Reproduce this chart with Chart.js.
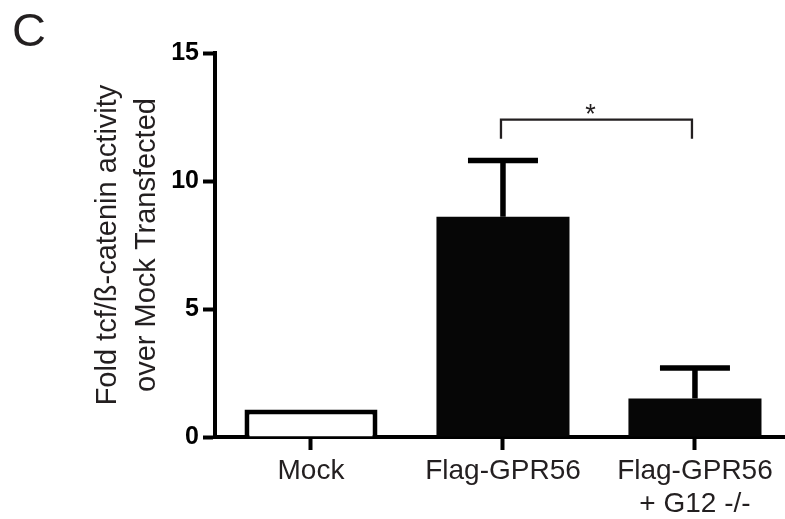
<!DOCTYPE html>
<html>
<head>
<meta charset="utf-8">
<script src="https://cdn.jsdelivr.net/npm/chart.js@4.4.0/dist/chart.umd.min.js"></script>
<style>
  html, body { margin: 0; padding: 0; background: #fff; }
  #wrap { position: relative; width: 785px; height: 519px; }
</style>
</head>
<body>
<div id="wrap"><canvas id="chart"></canvas></div>
<script>
// values
const CATEGORIES = ['Mock', 'Flag-GPR56', ['Flag-GPR56', '+ G12 -/-']]
const MEANS = [1.07, 8.6, 1.5]
const ERRORS = [0, 2.2, 1.2]
const Y_TICKS = [0, 5, 10, 15]
const Y_TITLE = ['Fold tcf/ß-catenin activity', 'over Mock Transfected']
const SIG_PAIR = [1, 2]
const SIG_LEVEL = 12.4
const SIG_DROP = 0.75
const SIG_LABEL = '*'
const PANEL = 'C'

const FONT = '"Liberation Sans", Arial, Helvetica, sans-serif'
const INK = '#000'
const TEXT = '#231f20'
const FILL = '#060606'

const errorBars = {
  id: 'errorBars',
  afterDatasetsDraw(chart) {
    const { ctx, scales: { y } } = chart
    const meta = chart.getDatasetMeta(0)
    ctx.save()
    ctx.strokeStyle = INK
    ctx.lineWidth = 5.5
    meta.data.forEach((bar, i) => {
      if (!ERRORS[i]) return
      const top = y.getPixelForValue(MEANS[i] + ERRORS[i])
      ctx.beginPath()
      ctx.moveTo(bar.x, bar.y)
      ctx.lineTo(bar.x, top)
      ctx.moveTo(bar.x - 35, top)
      ctx.lineTo(bar.x + 35, top)
      ctx.stroke()
    })
    ctx.restore()
  },
}

const sigBracket = {
  id: 'sigBracket',
  afterDatasetsDraw(chart) {
    const { ctx, scales: { x, y } } = chart
    const x1 = x.getPixelForValue(SIG_PAIR[0]) - 2
    const x2 = x.getPixelForValue(SIG_PAIR[1]) - 3
    const yTop = y.getPixelForValue(SIG_LEVEL)
    const yLow = y.getPixelForValue(SIG_LEVEL - SIG_DROP)
    ctx.save()
    ctx.strokeStyle = TEXT
    ctx.lineWidth = 2.3
    ctx.beginPath()
    ctx.moveTo(x1, yLow)
    ctx.lineTo(x1, yTop)
    ctx.lineTo(x2, yTop)
    ctx.lineTo(x2, yLow)
    ctx.stroke()
    ctx.fillStyle = TEXT
    ctx.font = `27px ${FONT}`
    ctx.textAlign = 'center'
    ctx.textBaseline = 'alphabetic'
    ctx.fillText(SIG_LABEL, (x1 + x2) / 2 - 6, yTop + 3)
    ctx.restore()
  },
}

const panelLetter = {
  id: 'panelLetter',
  afterDraw(chart) {
    const { ctx } = chart
    ctx.save()
    ctx.fillStyle = TEXT
    ctx.font = `47px ${FONT}`
    ctx.textBaseline = 'alphabetic'
    ctx.fillText(PANEL, 12, 46)
    ctx.restore()
  },
}

new Chart(document.getElementById('chart'), {
  type: 'bar',
  data: {
    datasets: [{
      data: MEANS.map((v, i) => ({ x: i, y: v })),
      backgroundColor: ['#fff', FILL, FILL],
      borderColor: INK,
      borderWidth: [5, 0, 0],
      borderSkipped: 'start',
      categoryPercentage: 1,
      barPercentage: 0.693,
    }],
  },
  options: {
    responsive: true,
    maintainAspectRatio: false,
    animation: false,
    layout: { padding: { top: 53, left: 0, right: 0, bottom: 0 } },
    plugins: { legend: { display: false }, tooltip: { enabled: false } },
    scales: {
      x: {
        type: 'linear',
        min: -0.5,
        max: 2.469,
        offset: false,
        z: 1,
        afterBuildTicks: (s) => { s.ticks = CATEGORIES.map((_, i) => ({ value: i })) },
        afterFit: (s) => { s.height = 82 },
        grid: { offset: false, drawOnChartArea: false, tickLength: 13, tickWidth: 4, color: INK },
        border: { width: 4, color: INK },
        ticks: {
          callback: (v) => CATEGORIES[v],
          font: { family: FONT, size: 28 },
          color: TEXT,
          padding: 4,
          maxRotation: 0,
          autoSkip: false,
        },
      },
      y: {
        min: 0,
        max: 15,
        z: 1,
        afterBuildTicks: (s) => { s.ticks = Y_TICKS.map((v) => ({ value: v })) },
        afterFit: (s) => { s.width = 215 },
        grid: { drawOnChartArea: false, tickLength: 12, tickWidth: 4, color: INK },
        border: { width: 4, color: INK },
        ticks: {
          font: { family: FONT, size: 25, weight: 'bold' },
          color: INK,
          padding: 4,
        },
        title: {
          display: true,
          text: Y_TITLE,
          font: { family: FONT, size: 29, lineHeight: 1.345 },
          color: TEXT,
          padding: { top: 88, bottom: 0 },
        },
      },
    },
  },
  plugins: [errorBars, sigBracket, panelLetter],
})
</script>
</body>
</html>
